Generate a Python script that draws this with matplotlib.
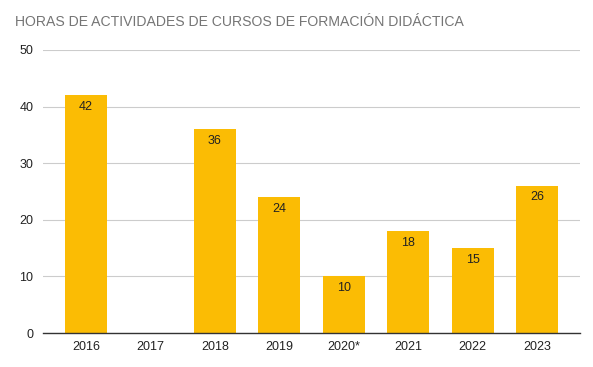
import matplotlib
matplotlib.use("Agg")
import matplotlib.pyplot as plt

years = ["2016", "2017", "2018", "2019", "2020*", "2021", "2022", "2023"]
hours = [42, 0, 36, 24, 10, 18, 15, 26]
yticks = [0, 10, 20, 30, 40, 50]

plt.rcParams['font.family'] = ['Liberation Sans', 'DejaVu Sans']

fig = plt.figure(figsize=(5.93, 3.67), dpi=100)
ax = fig.add_axes([43/593, (367-333)/367, (580-43)/593, (333-50)/367])

x = list(range(len(years)))
ax.bar(x, hours, width=0.65, color="#FBBC04", zorder=2)
for xi, h in zip(x, hours):
    if h > 0:
        ax.annotate(str(h), (xi, h), xytext=(0, -4), textcoords="offset points",
                    ha="center", va="top", fontsize=9, color="#222222", zorder=3)

ax.set_xlim(-0.667, len(years) - 1 + 0.667)
ax.set_ylim(0, 50)
ax.set_yticks(yticks)
ax.set_xticks(x)
ax.set_xticklabels(years)
ax.tick_params(axis="both", length=0, labelsize=9, colors="#222222")
ax.tick_params(axis="y", pad=7)
ax.tick_params(axis="x", pad=6)
ax.grid(axis="y", color="#cccccc", linewidth=0.8, zorder=0)
for s in ["top", "right", "left"]:
    ax.spines[s].set_visible(False)
ax.spines["bottom"].set_color("#333333")
ax.spines["bottom"].set_linewidth(1)
ax.spines["bottom"].set_zorder(3)

fig.text(15/593, 1 - 22/367, "HORAS DE ACTIVIDADES DE CURSOS DE FORMACIÓN DIDÁCTICA",
         fontsize=10.1, color="#757575", ha="left", va="center")

fig.savefig("out.png", dpi=100)
